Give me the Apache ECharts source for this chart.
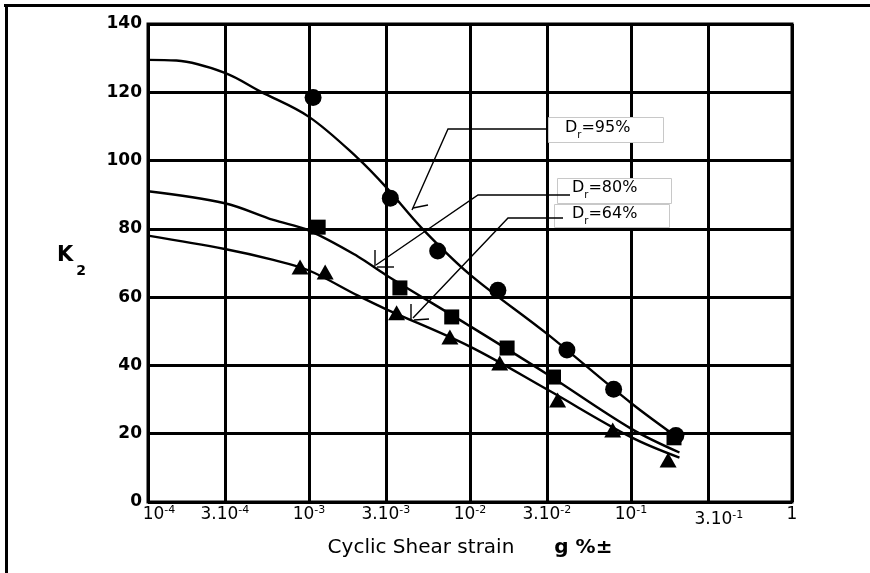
<!DOCTYPE html>
<html>
<head>
<meta charset="utf-8">
<script src="https://cdn.jsdelivr.net/npm/echarts@6/dist/echarts.min.js"></script>
<style>
html,body{margin:0;padding:0;background:#fff;}
#c{width:870px;height:573px;}
</style>
</head>
<body>
<div id="c"></div>
<script>
// ---- axis ticks ----
const tickStrains = [1e-4, 3e-4, 1e-3, 3e-3, 1e-2, 3e-2, 1e-1, 3e-1, 1];
const tickBase = ['10', '3.10', '10', '3.10', '10', '3.10', '10', '3.10', '1'];
const tickExp  = ['-4', '-4', '-3', '-3', '-2', '-2', '-1', '-1', ''];
const lowLabelIndex = 7; // the 3.10^-1 label sits a little lower in the original
const yMin = 0, yMax = 140, yStep = 20;

// ---- measured points ----
const dr95Strain = [1.06e-3, 3.2e-3, 6.3e-3, 0.0149, 0.040, 0.078, 0.19];
const dr95K      = [118.5, 89, 73.5, 62, 44.5, 33, 19.5];
const dr80Strain = [1.14e-3, 3.67e-3, 7.7e-3, 0.017, 0.033, 0.185];
const dr80K      = [80.5, 62.7, 54.2, 45.1, 36.6, 18.8];
const dr64Strain = [8.8e-4, 1.26e-3, 3.5e-3, 7.5e-3, 0.0153, 0.035, 0.077, 0.17];
const dr64K      = [68.8, 67.4, 55.4, 48.3, 40.7, 29.9, 21.1, 12.3];

// ---- fitted curves ----
const fit95Strain = [1e-4, 1.5e-4, 3e-4, 5e-4, 1e-3, 2e-3, 3e-3, 5e-3, 1e-2, 3e-2, 1e-1, 0.2];
const fit95K      = [129.5, 129.3, 125.7, 120.2, 112.8, 100.8, 92.3, 80.3, 66.6, 49.3, 29, 18.5];
const fit80Strain = [1e-4, 3e-4, 6e-4, 1e-3, 2e-3, 3e-3, 1e-2, 3e-2, 1e-1, 0.2];
const fit80K      = [91, 87.5, 82.6, 79.5, 72, 66.5, 51.5, 37.5, 21.5, 14.5];
const fit64Strain = [1e-4, 3e-4, 6e-4, 1e-3, 2e-3, 3e-3, 1e-2, 3e-2, 1e-1, 0.2];
const fit64K      = [78, 74.1, 70.9, 67.8, 60.5, 56.5, 45.5, 33, 19, 13];

// ---- labels ----
const labels95 = 'D_r=95%', labels80 = 'D_r=80%', labels64 = 'D_r=64%';
const yTitleMain = 'K', yTitleSub = '2';
const xTitleMain = 'Cyclic Shear strain', xTitleUnit = 'g %±';

const L = v => Math.log10(v);
const zip = (xs, ys) => xs.map((x, i) => [L(x), ys[i]]);
const xTickPos = tickStrains.map(L);
const xMainLabelPos = xTickPos.filter((p, i) => i !== lowLabelIndex);
const xLowLabelPos = [xTickPos[lowLabelIndex]];

function fmtX(val) {
  const i = xTickPos.findIndex(p => Math.abs(p - val) < 1e-6);
  if (i < 0) return '';
  let pre = '';
  if (i === 0 || i === lowLabelIndex) pre = '{p| }';
  return pre + '{b|' + tickBase[i] + '}' + (tickExp[i] ? '{s|' + tickExp[i] + '}' : '');
}

const FF = 'DejaVu Sans';
const chart = echarts.init(document.getElementById('c'));

function drLabel(txt) {
  const num = txt.split('=')[1];
  return '{d|D}{r|r}{t|=' + num + '}';
}
const drRich = {
  d: {fontFamily: FF, fontSize: 16, color: '#111', lineHeight: 20, verticalAlign: 'top'},
  r: {fontFamily: FF, fontSize: 10, color: '#111', verticalAlign: 'bottom'},
  t: {fontFamily: FF, fontSize: 16, color: '#111', lineHeight: 20, verticalAlign: 'top'}
};

const xLabelRich = {
  b: {fontFamily: FF, fontSize: 17, color: '#000', lineHeight: 20, verticalAlign: 'middle'},
  s: {fontFamily: FF, fontSize: 11, color: '#000', verticalAlign: 'top'},
  p: {width: 22}
};

const lineW = 1.4;
const graphics = [
  // outer frame (top and left)
  {type: 'line', z: 100, shape: {x1: 4, y1: 5.5, x2: 870, y2: 5.5}, style: {stroke: '#000', lineWidth: 3}},
  {type: 'line', z: 100, shape: {x1: 6.5, y1: 4, x2: 6.5, y2: 573}, style: {stroke: '#000', lineWidth: 3}},
  // annotation boxes
  {type: 'rect', z: 100, shape: {x: 548.5, y: 117.5, width: 115, height: 25}, style: {fill: '#fff', stroke: '#c8c8c8', lineWidth: 1}},
  {type: 'rect', z: 100, shape: {x: 557.5, y: 178.5, width: 114, height: 25}, style: {fill: '#fff', stroke: '#c8c8c8', lineWidth: 1}},
  {type: 'rect', z: 100, shape: {x: 554.5, y: 204.5, width: 115, height: 23}, style: {fill: '#fff', stroke: '#c8c8c8', lineWidth: 1}},
  {type: 'text', z: 101, x: 565, y: 120, style: {text: drLabel(labels95), rich: drRich}},
  {type: 'text', z: 101, x: 572, y: 180, style: {text: drLabel(labels80), rich: drRich}},
  {type: 'text', z: 101, x: 572, y: 206, style: {text: drLabel(labels64), rich: drRich}},
  // leaders
  {type: 'polyline', z: 100, shape: {points: [[548, 129], [448, 129], [412, 210]]}, style: {stroke: '#000', lineWidth: lineW, fill: null}},
  {type: 'line', z: 100, shape: {x1: 413, y1: 208, x2: 428, y2: 205}, style: {stroke: '#000', lineWidth: lineW}},
  {type: 'polyline', z: 100, shape: {points: [[570, 195], [478, 195], [376, 265]]}, style: {stroke: '#000', lineWidth: lineW, fill: null}},
  {type: 'line', z: 100, shape: {x1: 375, y1: 250, x2: 375, y2: 266}, style: {stroke: '#000', lineWidth: lineW}},
  {type: 'line', z: 100, shape: {x1: 377, y1: 267, x2: 394, y2: 267}, style: {stroke: '#000', lineWidth: lineW}},
  {type: 'polyline', z: 100, shape: {points: [[563, 218], [508, 218], [413, 318]]}, style: {stroke: '#000', lineWidth: lineW, fill: null}},
  {type: 'line', z: 100, shape: {x1: 411, y1: 304, x2: 411, y2: 319}, style: {stroke: '#000', lineWidth: lineW}},
  {type: 'line', z: 100, shape: {x1: 414, y1: 320, x2: 429, y2: 319}, style: {stroke: '#000', lineWidth: lineW}},
  // y title K2
  {type: 'text', z: 101, x: 57, y: 245, style: {
    text: '{k|' + yTitleMain + '}{s|' + yTitleSub + '}',
    rich: {
      k: {fontFamily: FF, fontWeight: 'bold', fontSize: 21, color: '#000', lineHeight: 33, verticalAlign: 'top'},
      s: {fontFamily: FF, fontWeight: 'bold', fontSize: 14, color: '#000', verticalAlign: 'bottom', padding: [0, 0, 0, 3]}
    }
  }}
];

const lineStyle = {color: '#000', width: 2.4};
const option = {
  backgroundColor: '#fff',
  animation: false,
  grid: {left: 148, right: 78, top: 24, bottom: 71, show: true, borderColor: '#000', borderWidth: 3, backgroundColor: 'transparent'},
  xAxis: [{
    type: 'value', min: -4, max: 0,
    axisLine: {show: false},
    axisTick: {show: false, customValues: xTickPos},
    splitLine: {show: true, lineStyle: {color: '#000', width: 3}},
    axisLabel: {customValues: xMainLabelPos, formatter: fmtX, margin: 3, rich: xLabelRich},
    name: '{a|' + xTitleMain + '}{g|' + xTitleUnit + '}',
    nameLocation: 'middle',
    nameGap: 36,
    nameTextStyle: {
      rich: {
        a: {fontFamily: FF, fontSize: 20, color: '#000'},
        g: {fontFamily: FF, fontSize: 20, color: '#000', fontWeight: 'bold', padding: [0, 0, 0, 40]}
      }
    }
  }, {
    type: 'value', min: -4, max: 0, position: 'bottom',
    axisLine: {show: false},
    axisTick: {show: false, customValues: xLowLabelPos},
    splitLine: {show: false},
    axisLabel: {customValues: xLowLabelPos, formatter: fmtX, margin: 8, rich: xLabelRich}
  }],
  yAxis: {
    type: 'value', min: yMin, max: yMax, interval: yStep,
    axisLine: {show: false},
    axisTick: {show: false},
    splitLine: {show: true, lineStyle: {color: '#000', width: 3}},
    axisLabel: {fontFamily: FF, fontWeight: 'bold', fontSize: 17, color: '#000', margin: 6}
  },
  series: [
    {type: 'line', data: zip(fit95Strain, fit95K), smooth: 0.35, showSymbol: false, lineStyle, z: 3},
    {type: 'line', data: zip(fit80Strain, fit80K), smooth: 0.35, showSymbol: false, lineStyle, z: 3},
    {type: 'line', data: zip(fit64Strain, fit64K), smooth: 0.35, showSymbol: false, lineStyle, z: 3},
    {type: 'scatter', data: zip(dr95Strain, dr95K), symbol: 'circle', symbolSize: 17, itemStyle: {color: '#000', opacity: 1}, z: 4},
    {type: 'scatter', data: zip(dr80Strain, dr80K), symbol: 'rect', symbolSize: 15, itemStyle: {color: '#000', opacity: 1}, z: 4},
    {type: 'scatter', data: zip(dr64Strain, dr64K), symbol: 'triangle', symbolSize: [17, 15], itemStyle: {color: '#000', opacity: 1}, z: 4}
  ],
  graphic: {elements: graphics}
};
chart.setOption(option);
</script>
</body>
</html>
